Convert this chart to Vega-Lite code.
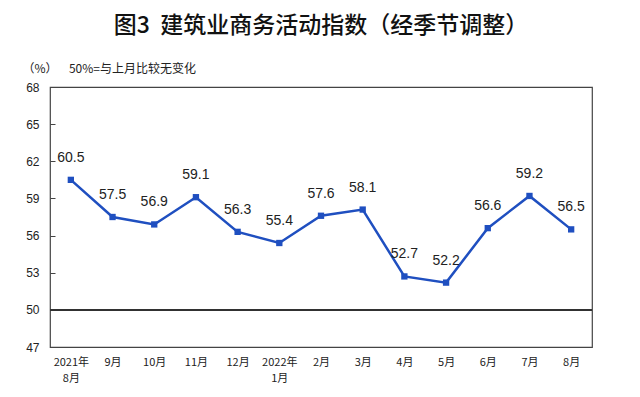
{
  "$schema": "https://vega.github.io/schema/vega-lite/v6.json",
  "width": 542,
  "height": 260,
  "autosize": "none",
  "padding": {"left": 50, "top": 87, "right": 48, "bottom": 50},
  "background": "white",
  "title": {
    "text": "图3\u00a0\u00a0建筑业商务活动指数（经季节调整）",
    "anchor": "middle",
    "frame": "group",
    "offset": 24,
    "font": "Noto Sans CJK SC",
    "fontSize": 23,
    "fontWeight": 500,
    "color": "#111111"
  },
  "config": {
    "view": {"stroke": "#444444", "strokeWidth": 1.2},
    "font": "Noto Sans CJK SC"
  },
  "data": {
    "values": [
      {"month": "2021年|8月", "v": 60.5},
      {"month": "9月", "v": 57.5},
      {"month": "10月", "v": 56.9},
      {"month": "11月", "v": 59.1},
      {"month": "12月", "v": 56.3},
      {"month": "2022年|1月", "v": 55.4},
      {"month": "2月", "v": 57.6},
      {"month": "3月", "v": 58.1},
      {"month": "4月", "v": 52.7},
      {"month": "5月", "v": 52.2},
      {"month": "6月", "v": 56.6},
      {"month": "7月", "v": 59.2},
      {"month": "8月", "v": 56.5}
    ]
  },
  "encoding": {
    "x": {
      "field": "month",
      "type": "ordinal",
      "sort": null,
      "scale": {"type": "point", "padding": 0.5},
      "axis": {
        "title": null,
        "labelAngle": 0,
        "domain": false,
        "ticks": false,
        "labelPadding": 9,
        "labelFontSize": 11,
        "labelColor": "#222222",
        "labelLineHeight": 16,
        "labelExpr": "split(datum.value, '|')"
      }
    },
    "y": {
      "field": "v",
      "type": "quantitative",
      "scale": {"domain": [47, 68], "nice": false, "zero": false},
      "axis": {
        "values": [47, 50, 53, 56, 59, 62, 65, 68],
        "grid": false,
        "domain": false,
        "tickSize": -5,
        "tickColor": "#444444",
        "labelPadding": 16,
        "labelFontSize": 12,
        "labelFont": "Liberation Sans",
        "labelColor": "#222222",
        "title": "（%）\u3000\u00a0\u00a050%=与上月比较无变化",
        "titleAngle": 0,
        "titleAlign": "left",
        "titleBaseline": "middle",
        "titleX": -28,
        "titleY": -19,
        "titleFontSize": 12,
        "titleFontWeight": "normal",
        "titleColor": "#222222"
      }
    }
  },
  "layer": [
    {
      "mark": {"type": "rule", "color": "#333333", "strokeWidth": 1},
      "encoding": {"y": {"datum": 50}, "x": {"value": 0}, "x2": {"value": 542}}
    },
    {
      "mark": {"type": "line", "color": "#1F4FC0", "strokeWidth": 2.5}
    },
    {
      "mark": {"type": "square", "color": "#1F4FC0", "opacity": 1, "filled": true, "size": 40}
    },
    {
      "mark": {"type": "text", "dy": -22, "fontSize": 14, "font": "Liberation Sans", "color": "#222222"},
      "encoding": {"text": {"field": "v", "type": "quantitative", "format": ".1f"}}
    }
  ]
}
